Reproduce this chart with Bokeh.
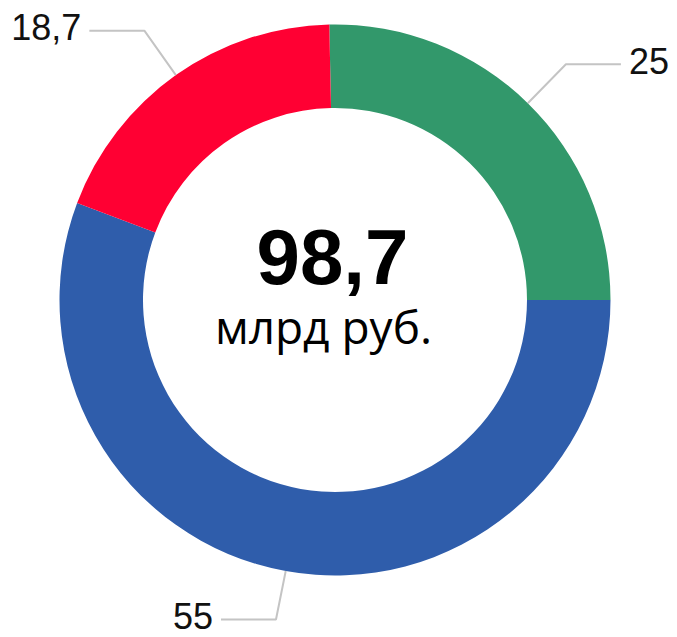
import math
from bokeh.plotting import figure
from bokeh.models import ColumnDataSource, Range1d
from bokeh.core.properties import value
from bokeh.embed import file_html
from bokeh.resources import INLINE

# ---- data ----
labels = ["25", "55", "18,7"]
values = [25, 55, 18.7]
colors = ["#32986b", "#2f5dab", "#ff0033"]
unit_text = "млрд руб."

# ---- layout (picture pixel coords mapped 1:1 to data; data y = 637 - pixel y) ----
W, H = 677, 637
PAGE_H = 637
p = figure(width=W, height=H, output_backend="svg", toolbar_location=None,
           x_range=Range1d(0, W), y_range=Range1d(PAGE_H - H, PAGE_H),
           min_border=0)
p.axis.visible = False
p.grid.visible = False
p.outline_line_color = None
p.background_fill_color = "white"
p.border_fill_color = "white"

cx, cy = 334.5, PAGE_H - 299.5
R_OUT, R_IN = 275.5, 192.0
R_ELBOW, HORIZ, GAP = 330.0, 55.0, 8.0
BASE_SHIFT = 0.37  # renderer places the baseline ~0.37em lower than asked

total = sum(values)
fracs = [v / total * 2 * math.pi for v in values]
a0 = fracs[0]  # first slice ends at 3 o'clock, slices run clockwise
cum = [0.0]
for f in fracs:
    cum.append(cum[-1] + f)
starts = [a0 - cum[i + 1] for i in range(len(values))]
ends = [a0 - cum[i] for i in range(len(values))]

src = ColumnDataSource(dict(start=starts, end=ends, color=colors))
p.annular_wedge(x=cx, y=cy, inner_radius=R_IN, outer_radius=R_OUT,
                start_angle="start", end_angle="end", color="color",
                line_color=None, source=src)

# leader lines and labels
LBL = 36
lx, ly, tx, ty, ta = [], [], [], [], []
for i in range(len(values)):
    m = (starts[i] + ends[i]) / 2
    x0, y0 = cx + R_OUT * math.cos(m), cy + R_OUT * math.sin(m)
    x1, y1 = cx + R_ELBOW * math.cos(m), cy + R_ELBOW * math.sin(m)
    y1 = max(y1, PAGE_H - 619)
    if math.cos(m) >= 0:
        t = min(x1 + HORIZ + GAP, W - 44)
        x2 = t - GAP
        ta.append("left")
    else:
        x2 = x1 - HORIZ
        t = x2 - GAP
        ta.append("right")
    tx.append(t)
    lx.append([x0, x1, x2])
    ly.append([y0, y1, y1])
    ty.append(y1 - 10 + BASE_SHIFT * LBL)

p.multi_line(xs=lx, ys=ly, line_color="#c4c4c4", line_width=2)
for i in range(len(values)):
    p.text(x=[tx[i]], y=[ty[i]], text=[labels[i]], text_align=ta[i],
           text_baseline="alphabetic", text_font=value("Liberation Sans"),
           text_font_size=f"{LBL}px", text_color="#111111")

# centre text
total_label = f"{total:.1f}".replace(".", ",")
p.text(x=[332], y=[PAGE_H - 285 + BASE_SHIFT * 78], text=[total_label], text_align="center",
       text_baseline="alphabetic", text_font=value("Liberation Sans"),
       text_font_style="bold", text_font_size="78px", text_color="#000000")
p.text(x=[323], y=[PAGE_H - 343 + BASE_SHIFT * 46], text=[unit_text], text_align="center",
       text_baseline="alphabetic", text_font=value("Open Sans"),
       text_font_size="46px", text_color="#000000")

open("out.html", "w").write(file_html(p, INLINE))
